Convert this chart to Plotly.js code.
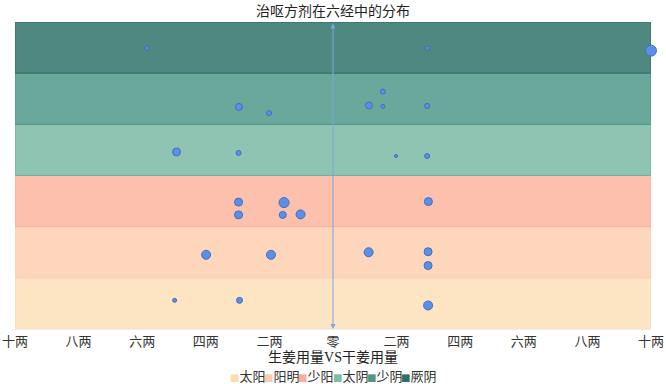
<!DOCTYPE html>
<html>
<head>
<meta charset="utf-8">
<script src="https://cdn.plot.ly/plotly-3.0.1.min.js"></script>
<style>html,body{margin:0;padding:0;background:#fff}#chart{width:666px;height:384px}</style>
</head>
<body>
<div id="chart"></div>
<script>
// Six meridian bands (bottom to top)
var categories = ['太阳', '阳明', '少阳', '太阴', '少阴', '厥阴'];
var bandCenters = [0.5, 1.5, 2.5, 3.5, 4.5, 5.5];
var bandSpan = [20, 20, 20, 20, 20, 20];

// Tick labels for the dose axis (negative = 生姜, positive = 干姜)
var tickValues = [-10, -8, -6, -4, -2, 0, 2, 4, 6, 8, 10];
var tickLabels = ['十两', '八两', '六两', '四两', '二两', '零', '二两', '四两', '六两', '八两', '十两'];

// Bubbles: dose (两), vertical position, bubble size
var bubbleX = [
  -5.85, 2.97, 10,
  -2.96, -2.01, 1.13, 1.57, 1.57, 2.96,
  -4.92, -2.97, 1.98, 2.96,
  -2.97, -1.54, 3.0, -2.97, -1.58, -1.02,
  -3.99, -1.95, 1.12, 2.99, 2.99,
  -4.98, -2.94, 2.99
];
var bubbleY = [
  5.49, 5.49, 5.44,
  4.34, 4.22, 4.37, 4.64, 4.35, 4.36,
  3.46, 3.44, 3.38, 3.38,
  2.48, 2.47, 2.49, 2.23, 2.23, 2.24,
  1.45, 1.45, 1.50, 1.51, 1.24,
  0.56, 0.56, 0.46
];
var bubbleSize = [
  4, 4, 11,
  7, 5, 7, 5, 4, 5,
  8, 5, 3, 5,
  8, 10, 8, 8, 7, 9,
  9, 9, 9, 8, 8,
  4, 6, 9
];

var bandFill = ['#FDE5C3', '#FDD6BB', '#FCC0AC', '#90C4B2', '#69A89A', '#4E8880'];
var bandLine = ['#FBDDB6', '#FBCDB0', '#F8B09A', '#6FB09C', '#4E9484', '#2C6E63'];
var legendSwatch = ['#FCDDB0', '#FBCBAE', '#F8AE98', '#7DBBA6', '#4F9886', '#2F6F66'];

var traces = [];
for (var i = 0; i < categories.length; i++) {
  traces.push({
    type: 'bar',
    orientation: 'h',
    name: categories[i],
    y: [bandCenters[i]],
    x: [bandSpan[i]],
    base: [-10],
    width: [1],
    marker: {color: bandFill[i], line: {color: bandLine[i], width: 1}},
    hoverinfo: 'skip'
  });
}
traces.push({
  type: 'scatter',
  mode: 'markers',
  x: bubbleX,
  y: bubbleY,
  showlegend: false,
  cliponaxis: false,
  marker: {size: bubbleSize, opacity: 1, color: '#5B8FE8', line: {color: '#3F6FC0', width: 1}}
});

var font = '"Liberation Serif", "Noto Sans CJK SC", serif';

// Legend built as text annotations (compact like the reference)
var annotations = [{
  x: 0, y: 0, ax: 0, ay: 6, xref: 'x', yref: 'y', axref: 'x', ayref: 'y',
  text: '', showarrow: true, arrowhead: 2, arrowside: 'end+start', arrowsize: 1,
  arrowwidth: 1, arrowcolor: '#7EA6DC'
}];
var legendStartPx = 228, legendStepPx = 34.2, plotLeft = 15, plotWidth = 636;
for (var j = 0; j < categories.length; j++) {
  annotations.push({
    xref: 'paper', yref: 'paper',
    x: (legendStartPx + j * legendStepPx - plotLeft) / plotWidth,
    y: -0.156, xanchor: 'left', yanchor: 'middle', showarrow: false,
    text: '<span style="font-family:DejaVu Sans;font-size:10px;fill:' + legendSwatch[j] + '">■</span>' + categories[j],
    font: {family: font, size: 13, color: '#333333'}
  });
}

var layout = {
  width: 666, height: 384,
  margin: {l: 15, r: 15, t: 22, b: 55, autoexpand: false},
  paper_bgcolor: '#ffffff', plot_bgcolor: '#ffffff',
  barmode: 'overlay',
  bargap: 0,
  showlegend: false,
  font: {family: font, color: '#333333', size: 13},
  title: {text: '治呕方剂在六经中的分布', x: 0.5, xanchor: 'center', y: 0.985, yanchor: 'top',
          font: {family: font, size: 14, color: '#222222'}},
  xaxis: {
    range: [-10, 10], tickvals: tickValues, ticktext: tickLabels,
    showgrid: false, zeroline: false, showline: true, linecolor: '#eeeeee',
    ticks: '', 
    tickfont: {family: font, size: 13, color: '#333333'},
    title: {text: '生姜用量VS干姜用量', standoff: 4, font: {family: font, size: 14, color: '#222222'}},
    fixedrange: true
  },
  yaxis: {
    range: [0, 6], showgrid: false, zeroline: false, showticklabels: false, showline: false, fixedrange: true
  },
  annotations: annotations
};

Plotly.newPlot('chart', traces, layout, {displayModeBar: false, staticPlot: true});
</script>
</body>
</html>
